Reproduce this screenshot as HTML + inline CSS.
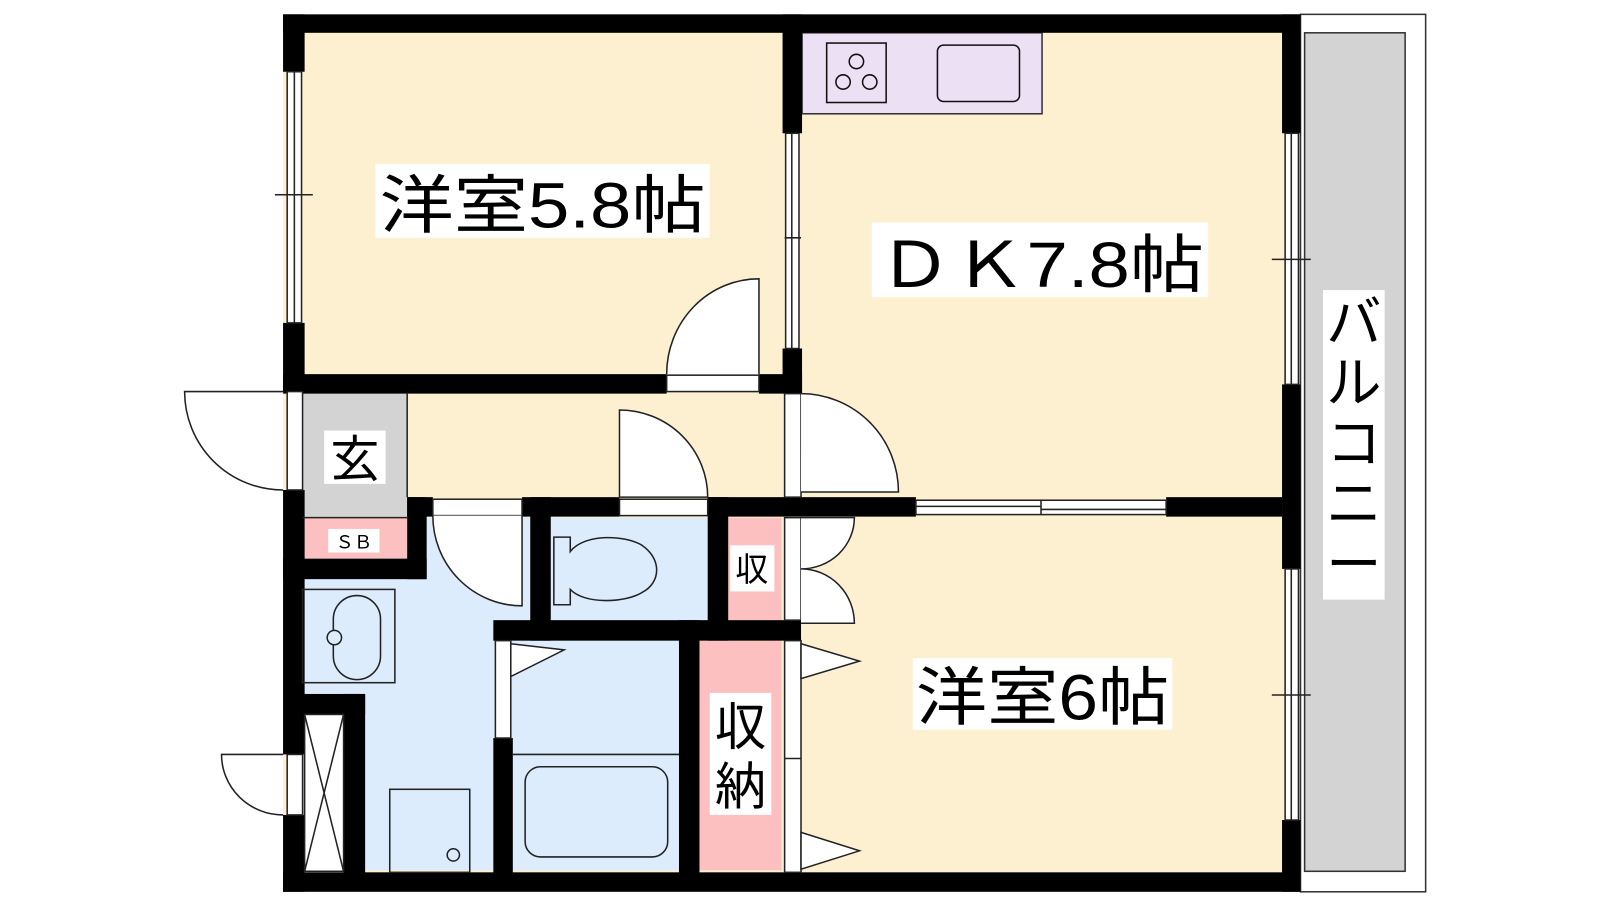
<!DOCTYPE html>
<html><head><meta charset="utf-8"><style>html,body{margin:0;padding:0;background:#fff}svg{display:block}</style></head>
<body>
<svg width="1600" height="900" viewBox="0 0 1560 878" preserveAspectRatio="none" xmlns="http://www.w3.org/2000/svg" font-family="'Liberation Sans','Noto Sans CJK JP',sans-serif">
<!-- floors -->
<rect x="276" y="14" width="992" height="856" fill="#fdf0d0"/>
<rect x="295" y="505" width="395" height="344" fill="#dcecfc"/>
<rect x="295" y="383" width="102" height="122" fill="#d3d3d3"/>
<rect x="295" y="505" width="102" height="40" fill="#fdc0c0"/>
<rect x="710" y="505" width="52" height="100" fill="#fdc0c0"/>
<rect x="682" y="625" width="80" height="224" fill="#fdc0c0"/>
<!-- balcony -->
<rect x="1268" y="14" width="122" height="856" fill="#fff" stroke="#333" stroke-width="1.5"/>
<rect x="1272" y="32" width="98" height="818" fill="#d3d3d3" stroke="#333" stroke-width="1.5"/>
<!-- kitchen -->
<rect x="782" y="32" width="234" height="79" fill="#ece0f4" stroke="#333" stroke-width="1.5"/>
<rect x="806" y="42" width="58" height="58" fill="none" stroke="#111" stroke-width="1.5"/>
<circle cx="835" cy="60" r="7" fill="none" stroke="#111" stroke-width="1.5"/>
<circle cx="822" cy="80" r="7" fill="none" stroke="#111" stroke-width="1.5"/>
<circle cx="848" cy="80" r="7" fill="none" stroke="#111" stroke-width="1.5"/>
<rect x="914" y="44" width="80" height="55" rx="6" fill="none" stroke="#111" stroke-width="1.5"/>
<!-- walls -->
<g fill="#000">
<rect x="276" y="14" width="992" height="18"/>
<rect x="276" y="851" width="992" height="19"/>
<rect x="276" y="14" width="21" height="56"/>
<rect x="276" y="315" width="21" height="67"/>
<rect x="276" y="478" width="21" height="258"/>
<rect x="276" y="795" width="21" height="75"/>
<rect x="1250" y="14" width="18" height="116"/>
<rect x="1250" y="375" width="18" height="180"/>
<rect x="1250" y="800" width="18" height="70"/>
<rect x="276" y="365" width="374" height="19"/>
<rect x="740" y="365" width="42" height="19"/>
<rect x="763" y="14" width="19" height="116"/>
<rect x="763" y="340" width="19" height="44"/>
<rect x="397" y="485" width="25" height="19"/>
<rect x="509" y="485" width="95" height="19"/>
<rect x="690" y="485" width="203" height="19"/>
<rect x="1137" y="485" width="113" height="19"/>
<rect x="397" y="485" width="19" height="80"/>
<rect x="276" y="545" width="140" height="20"/>
<rect x="517" y="485" width="20" height="140"/>
<rect x="481" y="605" width="300" height="20"/>
<rect x="690" y="485" width="20" height="140"/>
<rect x="295" y="677" width="61" height="20"/>
<rect x="335" y="677" width="21" height="180"/>
<rect x="481" y="720" width="19" height="140"/>
<rect x="662" y="605" width="20" height="260"/>
</g>
<g fill="#fff" stroke="#222" stroke-width="1.5">
<!-- windows -->
<rect x="280" y="70" width="14" height="245"/><line x1="287" y1="70" x2="287" y2="315"/>
<rect x="1253" y="130" width="13" height="245"/><line x1="1259" y1="130" x2="1259" y2="375"/>
<rect x="1253" y="555" width="13" height="245"/><line x1="1259" y1="555" x2="1259" y2="800"/>
<rect x="766" y="130" width="13" height="210"/><line x1="772" y1="130" x2="772" y2="340"/>
<rect x="893" y="488" width="244" height="14"/><line x1="893" y1="494" x2="1015" y2="494"/><line x1="1015" y1="497" x2="1137" y2="497"/>
<!-- door frames -->
<rect x="650" y="366" width="90" height="16"/>
<rect x="280" y="382" width="15" height="96"/>
<rect x="280" y="736" width="15" height="59"/>
<rect x="604" y="487" width="86" height="16"/>
<rect x="422" y="487" width="87" height="16"/>
<rect x="765" y="384" width="16" height="101"/>
<rect x="765" y="505" width="16" height="100"/>
<rect x="765" y="625" width="16" height="226"/>
<rect x="483" y="625" width="15" height="95"/>
<!-- doors -->
<path d="M740 365 V272 A90 93 0 0 0 650 365"/>
<path d="M276 382 H180 A96 96 0 0 0 276 478"/>
<path d="M276 736 H216 A60 59 0 0 0 276 795"/>
<path d="M604 485 V400 A86 85 0 0 1 690 485 Z"/>
<path d="M509 503 V591 A87 88 0 0 1 422 503"/>
<path d="M781 384 A95 96 0 0 1 876 480 H781"/>
<path d="M781 505 H833 A52 50 0 0 1 781 555 A52 53 0 0 1 833 608 H781"/>
<path d="M781 628 L838 645 L781 662 Z"/>
<path d="M781 812 L838 830 L781 848 Z"/>
<path d="M498 625 V660 L550 634 L498 628"/>
</g>
<g fill="none" stroke="#222" stroke-width="1.5">
<line x1="268" y1="190" x2="305" y2="190"/>
<line x1="1240" y1="253" x2="1278" y2="253"/>
<line x1="1240" y1="678" x2="1278" y2="678"/>
<line x1="765" y1="232" x2="781" y2="232"/>
<line x1="1015" y1="488" x2="1015" y2="502"/>
<line x1="765" y1="740" x2="781" y2="740"/>
<line x1="397" y1="383" x2="397" y2="485"/>
<line x1="295" y1="505" x2="397" y2="505"/>
<!-- sink -->
<rect x="295" y="575" width="90" height="91"/>
<rect x="325" y="581" width="46" height="82" rx="23"/>
<circle cx="326" cy="622" r="7" fill="#dcecfc"/>
<!-- closet X -->
<rect x="297" y="697" width="38" height="153" fill="#fff"/>
<line x1="297" y1="697" x2="335" y2="850"/><line x1="335" y1="697" x2="297" y2="850"/>
<!-- washing -->
<rect x="380" y="770" width="78" height="81"/>
<circle cx="442" cy="834" r="6"/>
<!-- toilet -->
<path d="M540 524 H556 V538 C570 520 610 522 626 532 C645 545 645 568 626 578 C610 588 570 590 556 575 V590 H540 Z"/>
<!-- bath -->
<line x1="500" y1="736" x2="662" y2="736"/>
<rect x="512" y="748" width="139" height="88" rx="15"/>
</g>
<!-- labels -->
<rect x="366" y="160" width="326" height="72" fill="#fff"/>
<text x="370" y="222" font-size="62" textLength="318" lengthAdjust="spacingAndGlyphs">洋室5.8帖</text>
<rect x="850" y="217" width="328" height="73" fill="#fff"/>
<text x="856" y="280" font-size="62" textLength="318" lengthAdjust="spacingAndGlyphs">ＤＫ7.8帖</text>
<rect x="890" y="642" width="253" height="70" fill="#fff"/>
<text x="893" y="702" font-size="62" textLength="247" lengthAdjust="spacingAndGlyphs">洋室6帖</text>
<rect x="1290" y="283" width="60" height="302" fill="#fff"/>
<text font-size="54" text-anchor="middle" x="1320"><tspan x="1320" y="333">バ</tspan><tspan x="1320" y="392">ル</tspan><tspan x="1320" y="451">コ</tspan><tspan x="1320" y="510">ニ</tspan><tspan x="1320" y="569">ー</tspan></text>
<rect x="316" y="420" width="60" height="52" fill="#fff"/>
<text x="346" y="465" font-size="48" text-anchor="middle">玄</text>
<rect x="320" y="516" width="50" height="23" fill="#fff"/>
<text x="345" y="535" font-size="18" text-anchor="middle">ＳＢ</text>
<rect x="712" y="532" width="43" height="45" fill="#fff"/>
<text x="733" y="567" font-size="32" text-anchor="middle">収</text>
<rect x="692" y="676" width="60" height="119" fill="#fff"/>
<text font-size="50" text-anchor="middle"><tspan x="722" y="727">収</tspan><tspan x="722" y="785">納</tspan></text>
</svg>
</body></html>
